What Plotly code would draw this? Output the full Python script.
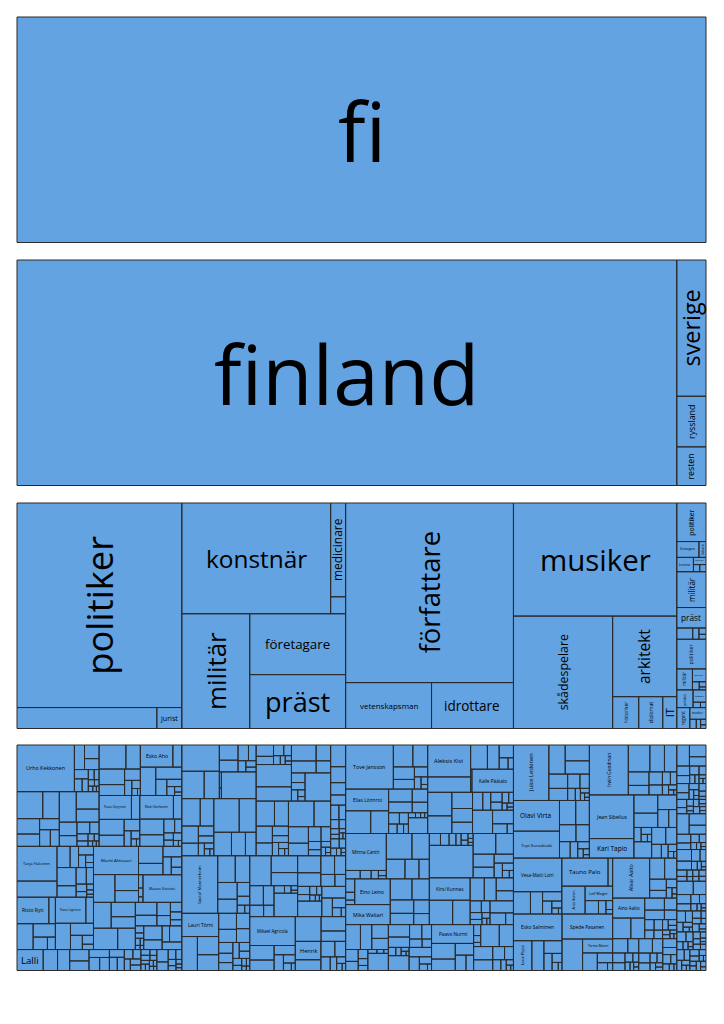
import plotly.graph_objects as go

# ---------------- data ----------------
ROOT = "fi"
COUNTRIES = ["finland", "sverige", "ryssland", "resten"]

FI_OCC = ["politiker", "", "jurist", "konstnär", "medicinare", "", "militär", "företagare", "präst",
          "författare", "vetenskapsman", "idrottare", "musiker", "skådespelare", "arkitekt",
          "historiker", "diplomat", "IT"]
FI_OCC_VAL = [33825, 2940, 525, 16539, 1410, 255, 7820, 5856, 5184,
              30240, 3956, 3772, 18532, 11187, 5184, 832, 768, 448]

SE_OCC = ["politiker", "företagare", "läkare", "konstnär", "författare", "", "",
          "militär", "präst", "", "", "", ""]
SE_OCC_VAL = [1131, 352, 112, 240, 91, 45, 45, 1050, 600, 180, 70, 45, 35]

RU_OCC = ["politiker", "militär", "författare", "", "", ""]
RU_OCC_VAL = [870, 330, 175, 55, 35, 20]

RE_OCC = ["politiker", "författare", "", "", "regent", "musiker", "", "", "", ""]
RE_OCC_VAL = [290, 160, 40, 30, 273, 190, 60, 40, 30, 20]

P_FI_POLITIKER = [
    ("Urho Kekkonen", 2700), ("", 250), ("", 200), ("", 160), ("", 130), ("", 100), ("", 80), ("", 60),
    ("", 50), ("", 40), ("", 30), ("", 25), ("", 20), ("", 15),
    ("", 700), ("", 450), ("", 350), ("", 280), ("", 220), ("", 180), ("", 150), ("", 520), ("", 400), ("", 300),
    ("", 240), ("", 190), ("", 150), ("", 110), ("", 80), ("", 60), ("", 45), ("", 35), ("", 25), ("", 20), ("", 15),
    ("", 650), ("", 350), ("", 400), ("", 280), ("", 180), ("", 110), ("", 70), ("", 40), ("", 20),
    ("Esko Aho", 725), ("", 200), ("", 440), ("", 320), ("", 180), ("", 110), ("", 70), ("", 40), ("", 25),
    ("Paavo Väyrynen", 780), ("", 200), ("", 400), ("", 280), ("", 180), ("", 110), ("", 70), ("", 40), ("", 25),
    ("Matti Vanhanen", 800), ("", 200), ("", 380), ("", 280), ("", 150), ("", 100), ("", 70), ("", 60), ("", 65),
    ("", 30), ("", 20),
    ("Tarja Halonen", 1400), ("", 650), ("", 280), ("", 180), ("", 130), ("", 90), ("", 60), ("", 40),
    ("", 350), ("", 220), ("", 170), ("", 120), ("", 80), ("", 60), ("", 40), ("", 30), ("", 20),
    ("Risto Ryti", 850), ("", 175), ("", 420), ("", 300), ("", 180), ("", 100),
    ("Paavo Lipponen", 800), ("", 200), ("", 400), ("", 280), ("", 170), ("", 100), ("", 60),
    ("Martti Ahtisaari", 1280), ("", 600), ("", 380), ("", 280), ("", 420), ("", 280), ("", 200), ("", 150),
    ("", 110), ("", 80), ("", 60), ("", 40), ("", 25),
    ("Mauno Koivisto", 1080), ("", 460), ("", 350), ("", 280), ("", 520), ("", 380), ("", 280), ("", 230), ("", 180),
    ("", 140), ("", 110), ("", 90), ("", 70), ("", 60), ("", 45), ("", 35), ("", 25), ("", 20), ("", 15),
    ("", 260), ("", 180), ("", 120), ("", 200), ("", 150)]
P_FI_OKAND = [("Lalli", 475)] + [("", v) for v in [260, 220, 190, 160, 140, 120, 110, 100, 90, 80, 70, 65, 60,
                                                   55, 50, 45, 40, 35, 30, 28, 25, 22, 20, 18, 15, 12]]
P_FI_JURIST = [("", v) for v in [130, 90, 70, 55, 45, 35, 25, 20, 15]]
P_FI_KONSTNAR = [("", v) for v in [900, 560, 380, 260, 200, 150, 110, 80, 60, 45, 30, 20,
                                   850, 460, 340, 260, 190, 140, 100, 70, 50, 35, 25,
                                   780, 520, 380, 300, 230, 180, 130, 100, 75, 55, 40, 30, 20,
                                   720, 460, 360, 270, 210, 160, 120, 90, 65, 45, 30,
                                   660, 420, 320, 250, 190, 140, 100, 75, 55, 40, 25,
                                   600, 390, 300, 230, 170, 130, 95, 70, 50, 35, 25, 15]]
P_FI_MEDICINARE = [("", v) for v in [300, 220, 170, 140, 110, 90, 70, 55, 45, 35, 25, 20, 15]]
P_FI_MED2 = [("", v) for v in [80, 60, 45, 35, 20, 15]]
P_FI_MILITAR = [("Gustaf Mannerheim", 2030), ("", 460), ("", 380), ("", 320), ("", 270), ("", 170), ("", 110),
                ("", 60), ("", 40),
                ("Lauri Törni", 840), ("", 520), ("", 380), ("", 330), ("", 280), ("", 230), ("", 200), ("", 180),
                ("", 150), ("", 130), ("", 110), ("", 100), ("", 90), ("", 75), ("", 60), ("", 45), ("", 35),
                ("", 25), ("", 20), ("", 15)]
P_FI_FORETAGARE = [("", v) for v in [650, 450, 350, 270, 210, 160, 120, 80, 50, 30, 20,
                                     560, 400, 320, 260, 210, 170, 130, 100, 80, 60, 45, 35, 25, 15,
                                     380, 280, 200, 130, 80, 40]]
P_FI_PRAST = [("Mikael Agricola", 1340), ("", 360), ("", 260), ("", 200), ("", 150), ("", 100), ("", 60), ("", 30),
              ("", 650), ("", 360), ("", 260), ("Henrik", 480), ("", 280), ("", 220), ("", 170), ("", 130),
              ("", 90), ("", 60), ("", 40), ("", 25)]
P_FI_FORFATTARE = [
    ("Tove Jansson", 2070), ("", 420), ("", 320), ("", 260), ("", 200), ("", 130), ("", 80), ("", 50), ("", 30),
    ("Elias Lönnrot", 920), ("", 560), ("", 400), ("", 300), ("", 250), ("", 200), ("", 160), ("", 120), ("", 100),
    ("", 80), ("", 60), ("", 45), ("", 35), ("", 25), ("", 20), ("", 15), ("", 300),
    ("Aleksis Kivi", 1350), ("", 650), ("", 400), ("", 280), ("", 180), ("", 100), ("", 60), ("", 30),
    ("Kalle Päätalo", 945), ("", 560), ("", 420), ("", 330), ("", 280), ("", 230), ("", 180), ("", 140), ("", 110),
    ("", 90), ("", 70), ("", 50), ("", 35), ("", 25), ("", 20), ("", 460), ("", 280), ("", 140), ("", 60),
    ("Minna Canth", 1480), ("", 120), ("", 90), ("", 60), ("", 40), ("", 25),
    ("", 650), ("", 440), ("", 360), ("", 270), ("", 200), ("", 120), ("", 70), ("", 40),
    ("Eino Leino", 900), ("Mika Waltari", 880), ("", 450), ("", 360), ("", 310), ("", 260), ("", 210), ("", 170),
    ("", 130), ("", 100), ("", 80), ("", 60), ("", 45), ("", 35), ("", 25), ("", 20), ("", 15),
    ("", 1400), ("", 460), ("", 360), ("", 270), ("", 220), ("", 170), ("", 120), ("", 80), ("", 50), ("", 30),
    ("Kirsi Kunnas", 900), ("", 560), ("", 420), ("", 320), ("", 270), ("", 220), ("", 170), ("", 130), ("", 100),
    ("", 80), ("", 60), ("", 45), ("", 30), ("", 20), ("", 280), ("", 180), ("", 90)]
P_FI_VETENSKAPSMAN = [("", v) for v in [420, 320, 260, 210, 170, 130, 100, 75, 55, 40, 30, 20,
                                        400, 300, 250, 200, 160, 120, 90, 70, 50, 35, 25, 15,
                                        350, 240, 160, 100, 60, 30]]
P_FI_IDROTTARE = [("Paavo Nurmi", 814), ("", 380), ("", 280), ("", 220), ("", 170), ("", 120), ("", 80), ("", 50),
                  ("", 30), ("", 420), ("", 320), ("", 260), ("", 210), ("", 160), ("", 120), ("", 90), ("", 60),
                  ("", 40), ("", 25), ("", 15)]
P_FI_MUSIKER = [
    ("Juice Leskinen", 1900), ("", 460), ("", 370), ("", 310), ("", 260), ("", 220), ("", 170), ("", 130), ("", 90),
    ("", 60), ("", 40), ("", 30), ("", 20), ("", 15),
    ("Olavi Virta", 1365), ("Topi Sorsakoski", 1200), ("", 380), ("", 320), ("", 270), ("", 220), ("", 170),
    ("", 120), ("", 80), ("", 50), ("", 35), ("", 20),
    ("Irwin Goodman", 1880), ("", 560), ("", 380), ("", 320), ("", 270), ("", 190), ("", 170), ("", 130), ("", 100),
    ("", 80), ("", 60), ("", 40), ("", 25), ("", 15),
    ("Jean Sibelius", 1880), ("Kari Tapio", 840), ("", 420), ("", 330), ("", 270), ("", 190), ("", 140), ("", 100),
    ("", 70), ("", 45), ("", 30), ("", 280), ("", 230), ("", 180), ("", 130), ("", 90), ("", 60), ("", 35), ("", 20)]
P_FI_SKADESPELARE = [
    ("Vesa-Matti Loiri", 1630), ("", 380), ("", 270), ("", 180), ("", 120), ("", 70), ("", 40), ("", 20),
    ("Tauno Palo", 1300), ("", 130), ("Ansa Ikonen", 650), ("Leif Wager", 400), ("", 180), ("", 100), ("", 60),
    ("", 30),
    ("Esko Salminen", 1300), ("Lasse Pöysti", 550), ("", 360), ("", 230), ("", 140), ("", 90), ("", 50), ("", 30),
    ("Spede Pasanen", 1270), ("", 650), ("Tarmo Manni", 420), ("", 260), ("", 150), ("", 80), ("", 40)]
P_FI_ARKITEKT = [("Alvar Aalto", 1500), ("", 320), ("", 260), ("", 190), ("", 130), ("", 90), ("", 60), ("", 30),
                 ("", 20), ("Aino Aalto", 650), ("", 380), ("", 290), ("", 240), ("", 190), ("", 150), ("", 120),
                 ("", 100), ("", 90), ("", 80), ("", 75), ("", 60), ("", 50), ("", 40), ("", 35), ("", 30),
                 ("", 25), ("", 20), ("", 15)]
P_FI_HISTORIKER = [("", v) for v in [180, 130, 100, 80, 60, 45, 35, 25, 20, 15]]
P_FI_DIPLOMAT = [("", v) for v in [160, 120, 90, 70, 55, 45, 35, 25, 20]]
P_FI_IT = [("", v) for v in [100, 80, 60, 45, 35, 25, 15]]

FI_PERSONS = [P_FI_POLITIKER, P_FI_OKAND, P_FI_JURIST, P_FI_KONSTNAR, P_FI_MEDICINARE, P_FI_MED2, P_FI_MILITAR,
              P_FI_FORETAGARE, P_FI_PRAST, P_FI_FORFATTARE, P_FI_VETENSKAPSMAN, P_FI_IDROTTARE, P_FI_MUSIKER,
              P_FI_SKADESPELARE, P_FI_ARKITEKT, P_FI_HISTORIKER, P_FI_DIPLOMAT, P_FI_IT]
SE_PERSON_VAL = [[260, 190, 150, 120, 100, 80, 60, 45, 35, 25, 20, 15], [110, 80, 60, 45, 30, 20], [50, 35, 20],
                 [80, 60, 45, 30, 20], [40, 30, 20], [45], [25, 20],
                 [250, 190, 150, 120, 90, 70, 55, 40, 30, 20, 15], [170, 130, 100, 70, 50, 35, 25, 15],
                 [60, 45, 35, 25], [40, 30], [45], [35]]
RU_PERSON_VAL = [[220, 170, 130, 100, 80, 60, 45, 30, 20, 15], [100, 80, 60, 45, 30, 15], [60, 45, 35, 25],
                 [55], [35], [20]]
RE_PERSON_VAL = [[90, 70, 50, 40, 25, 15], [50, 40, 35, 20, 15], [40], [30], [80, 60, 50, 40, 25, 18],
                 [60, 50, 40, 25, 15], [30, 30], [40], [30], [20]]

# ---------------- styling / geometry ----------------
FILL = "#63a3e2"
EDGE = "#2a2a2a"
FONT = "Open Sans"
X0, X1 = 17, 706
PANEL_TOPS = [17, 260, 503, 745]
PANEL_H = 225.5
MAX_FONT = 82

CW = {'a': .556, 'b': .613, 'c': .48, 'd': .613, 'e': .561, 'f': .336, 'g': .546, 'h': .614, 'i': .258,
      'j': .258, 'k': .52, 'l': .258, 'm': .931, 'n': .614, 'o': .601, 'p': .613, 'q': .613, 'r': .408,
      's': .477, 't': .353, 'u': .614, 'v': .5, 'w': .778, 'x': .524, 'y': .5, 'z': .469, 'ä': .556,
      'å': .556, 'ö': .601, ' ': .26, '-': .322, 'A': .633, 'B': .647, 'C': .631, 'D': .729, 'E': .556,
      'F': .516, 'G': .725, 'H': .739, 'I': .279, 'J': .267, 'K': .614, 'L': .519, 'M': .907, 'N': .754,
      'O': .78, 'P': .603, 'R': .618, 'S': .549, 'T': .553, 'U': .728, 'V': .593, 'W': .924}


def text_em(s):
    return sum(CW.get(ch, 0.62 if ch.isupper() else 0.55) for ch in s)


def binary(values, x0, y0, x1, y1):
    """d3.treemapBinary tiling, order preserved."""
    n = len(values)
    sums = [0.0]
    for v in values:
        sums.append(sums[-1] + v)
    out = [None] * n

    def part(i, j, value, a0, b0, a1, b1):
        if i >= j - 1:
            out[i] = (a0, b0, a1, b1)
            return
        off = sums[i]
        target = value / 2 + off
        k, hi = i + 1, j - 1
        while k < hi:
            mid = (k + hi) >> 1
            if sums[mid] < target:
                k = mid + 1
            else:
                hi = mid
        if (target - sums[k - 1]) < (sums[k] - target) and i + 1 < k:
            k -= 1
        vl = sums[k] - off
        vr = value - vl
        if (a1 - a0) > (b1 - b0):
            xk = (a0 * vr + a1 * vl) / value
            part(i, k, vl, a0, b0, xk, b1)
            part(k, j, vr, xk, b0, a1, b1)
        else:
            yk = (b0 * vr + b1 * vl) / value
            part(i, k, vl, a0, b0, a1, yk)
            part(k, j, vr, a0, yk, a1, b1)

    part(0, n, sums[n], x0, y0, x1, y1)
    return out


# hierarchy (country -> occupation -> person)
occ_names = [FI_OCC, SE_OCC, RU_OCC, RE_OCC]
occ_vals = [FI_OCC_VAL, SE_OCC_VAL, RU_OCC_VAL, RE_OCC_VAL]
persons = [FI_PERSONS,
           [[("", v) for v in lst] for lst in SE_PERSON_VAL],
           [[("", v) for v in lst] for lst in RU_PERSON_VAL],
           [[("", v) for v in lst] for lst in RE_PERSON_VAL]]
country_vals = [sum(v) for v in occ_vals]

lvl = [[(ROOT, (X0, 0, X1, PANEL_H))], [], [], []]
c_rects = binary(country_vals, X0, 0, X1, PANEL_H)
for ci, cr in enumerate(c_rects):
    lvl[1].append((COUNTRIES[ci], cr))
    o_rects = binary(occ_vals[ci], *cr)
    for oi, orr in enumerate(o_rects):
        lvl[2].append((occ_names[ci][oi], orr))
        plist = persons[ci][oi]
        p_rects = binary([p[1] for p in plist], *orr)
        for pi, pr in enumerate(p_rects):
            lvl[3].append((plist[pi][0], pr))

fig = go.Figure()
annotations = []
for p, cells in enumerate(lvl):
    top = PANEL_TOPS[p]
    xs, ys = [], []
    for name, (a0, b0, a1, b1) in cells:
        b0 += top
        b1 += top
        xs += [a0, a1, a1, a0, a0, None]
        ys += [b0, b0, b1, b1, b0, None]
        if name:
            w, h = a1 - a0, b1 - b0
            rot = h > w
            lng, sht = (h, w) if rot else (w, h)
            fs = min(MAX_FONT, 0.8 * sht, 0.68 * lng / text_em(name))
            if fs >= 1:
                annotations.append(dict(
                    x=(a0 + a1) / 2, y=(b0 + b1) / 2, xref="x", yref="y", text=name,
                    showarrow=False, textangle=-90 if rot else 0, xanchor="center", yanchor="middle",
                    font=dict(family=FONT, size=fs, color="black")))
    fig.add_trace(go.Scatter(x=xs, y=ys, mode="lines", fill="toself", fillcolor=FILL,
                             line=dict(color=EDGE, width=1), hoverinfo="skip", showlegend=False))

fig.update_layout(
    width=724, height=1024, autosize=False,
    margin=dict(l=0, r=0, t=0, b=0),
    paper_bgcolor="white", plot_bgcolor="white",
    xaxis=dict(range=[0, 724], visible=False, fixedrange=True),
    yaxis=dict(range=[1024, 0], visible=False, fixedrange=True),
    annotations=annotations,
    font=dict(family=FONT),
)
fig.write_html("out.html", config={"displayModeBar": False})
